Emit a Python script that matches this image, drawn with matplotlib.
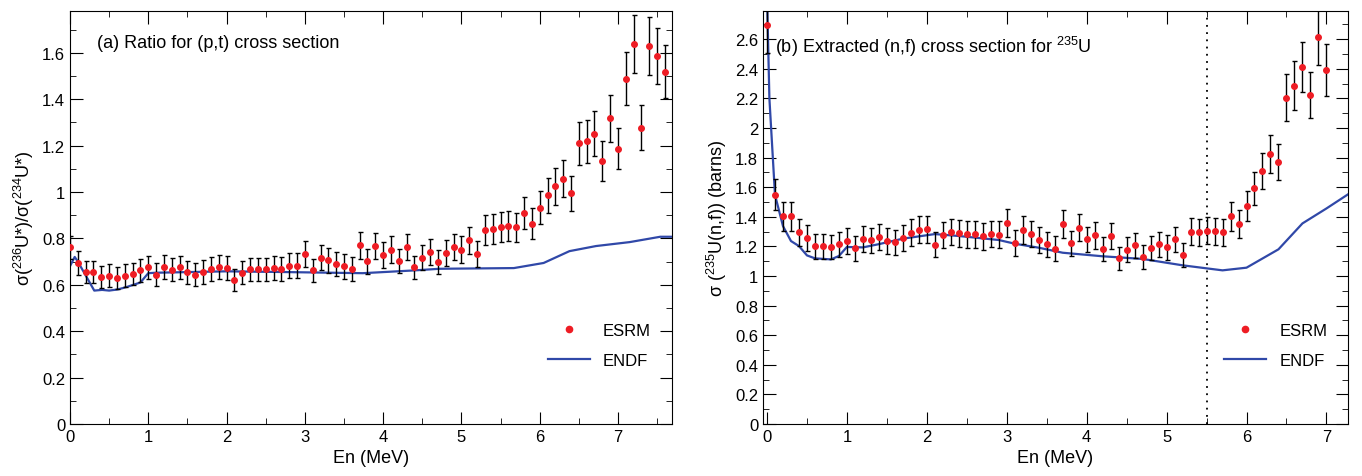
import numpy as np
import matplotlib.pyplot as plt
from matplotlib.lines import Line2D
from matplotlib.ticker import MultipleLocator, FormatStrFormatter

plt.rcParams['font.family'] = ['Liberation Sans', 'DejaVu Sans']
plt.rcParams['mathtext.fontset'] = 'custom'
plt.rcParams['mathtext.rm'] = 'Liberation Sans'

# panel (a): ratio for (p,t), points every 0.1 MeV from 0
ratio_y = [0.761, 0.694, 0.655, 0.655, 0.633, 0.640, 0.630, 0.640, 0.647, 0.662,
           0.675, 0.643, 0.676, 0.665, 0.675, 0.653, 0.644, 0.655, 0.669, 0.676,
           0.673, 0.619, 0.652, 0.666, 0.666, 0.666, 0.672, 0.669, 0.683, 0.683,
           0.734, 0.662, 0.717, 0.705, 0.688, 0.679, 0.669, 0.770, 0.701, 0.767,
           0.729, 0.752, 0.702, 0.763, 0.675, 0.717, 0.741, 0.698, 0.738, 0.763,
           0.752, 0.791, 0.731, 0.837, 0.839, 0.849, 0.853, 0.847, 0.908, 0.863,
           0.932, 0.986, 1.024, 1.058, 0.994, 1.209, 1.219, 1.252, 1.134, 1.317,
           1.187, 1.489, 1.637, 1.276, 1.630, 1.587, 1.518]
ratio_err = [0.050, 0.050, 0.049, 0.049, 0.048, 0.048, 0.048, 0.048, 0.049, 0.050,
             0.051, 0.049, 0.051, 0.050, 0.051, 0.050, 0.049, 0.050, 0.051, 0.051,
             0.051, 0.047, 0.050, 0.051, 0.051, 0.051, 0.051, 0.051, 0.052, 0.052,
             0.056, 0.050, 0.054, 0.054, 0.052, 0.052, 0.051, 0.058, 0.053, 0.058,
             0.055, 0.057, 0.053, 0.058, 0.051, 0.054, 0.056, 0.053, 0.056, 0.058,
             0.057, 0.060, 0.056, 0.064, 0.064, 0.065, 0.065, 0.064, 0.069, 0.066,
             0.071, 0.075, 0.078, 0.080, 0.076, 0.092, 0.093, 0.095, 0.086, 0.100,
             0.090, 0.113, 0.124, 0.097, 0.124, 0.121, 0.115]
endf_a_x = [0, 0.06, 0.10, 0.31, 0.41, 0.5, 0.61, 0.72, 0.9, 1.0, 1.1, 2.0, 2.72,
            3.74, 4.4, 4.72, 5.67, 6.05, 6.38, 6.72, 7.15, 7.54, 7.69]
endf_a_y = [0.68, 0.72, 0.70, 0.575, 0.578, 0.575, 0.58, 0.59, 0.61, 0.65, 0.652,
            0.658, 0.655, 0.65, 0.662, 0.669, 0.672, 0.694, 0.745, 0.767, 0.784,
            0.807, 0.807]

# panel (b): extracted (n,f) for 235U, points every 0.1 MeV from 0
nf_y = [2.697, 1.548, 1.402, 1.402, 1.294, 1.254, 1.200, 1.202, 1.196, 1.213,
        1.238, 1.187, 1.252, 1.240, 1.265, 1.236, 1.227, 1.256, 1.292, 1.312,
        1.315, 1.211, 1.276, 1.297, 1.288, 1.281, 1.281, 1.267, 1.283, 1.279,
        1.360, 1.222, 1.310, 1.283, 1.243, 1.213, 1.184, 1.353, 1.220, 1.326,
        1.247, 1.274, 1.182, 1.272, 1.119, 1.178, 1.207, 1.128, 1.189, 1.213,
        1.193, 1.247, 1.142, 1.299, 1.294, 1.306, 1.303, 1.294, 1.402, 1.353,
        1.472, 1.593, 1.710, 1.825, 1.769, 2.204, 2.285, 2.411, 2.225, 2.613,
        2.389]
nf_err = [0.19, 0.105, 0.10, 0.10, 0.09, 0.088, 0.084, 0.084, 0.084, 0.085,
          0.087, 0.083, 0.088, 0.087, 0.089, 0.087, 0.086, 0.088, 0.090, 0.092,
          0.092, 0.085, 0.089, 0.091, 0.090, 0.090, 0.090, 0.089, 0.090, 0.090,
          0.095, 0.086, 0.092, 0.090, 0.087, 0.085, 0.083, 0.095, 0.085, 0.093,
          0.087, 0.089, 0.083, 0.089, 0.078, 0.082, 0.084, 0.079, 0.083, 0.085,
          0.084, 0.087, 0.080, 0.091, 0.091, 0.091, 0.091, 0.091, 0.098, 0.095,
          0.103, 0.112, 0.120, 0.128, 0.124, 0.160, 0.166, 0.170, 0.156, 0.190,
          0.175]
endf_b_x = [0, 0.03, 0.10, 0.20, 0.30, 0.40, 0.50, 0.60, 0.80, 0.90, 1.0, 1.2, 1.4,
            1.7, 2.1, 2.4, 2.9, 3.1, 3.4, 3.7, 4.2, 4.7, 5.2, 5.7, 6.0, 6.4, 6.7,
            7.0, 7.3]
endf_b_y = [2.90, 2.20, 1.548, 1.337, 1.236, 1.202, 1.139, 1.119, 1.112, 1.135,
            1.196, 1.193, 1.215, 1.252, 1.283, 1.27, 1.243, 1.218, 1.191, 1.157,
            1.133, 1.115, 1.072, 1.038, 1.056, 1.18, 1.355, 1.456, 1.562]
threshold = 5.51

RED = '#ee1c24'
BLUE = '#3048a8'

fig = plt.figure(figsize=(13.62, 4.77), dpi=100)
ax1 = fig.add_axes([70/1362, 52/477, 602/1362, 413/477])
ax2 = fig.add_axes([763/1362, 52/477, 585/1362, 413/477])


def style(ax):
    ax.tick_params(which='both', direction='in', top=True, right=True, labelsize=12)
    ax.tick_params(which='major', length=9)
    ax.tick_params(which='minor', length=4.5)
    ax.xaxis.set_major_locator(MultipleLocator(1))
    ax.xaxis.set_minor_locator(MultipleLocator(0.5))
    ax.yaxis.set_major_locator(MultipleLocator(0.2))
    ax.yaxis.set_minor_locator(MultipleLocator(0.1))
    ax.yaxis.set_major_formatter(FormatStrFormatter('%g'))
    ax.set_xlabel('En (MeV)', fontsize=13)
    handles = [Line2D([], [], ls='none', marker='o', color=RED, ms=4.5),
               Line2D([], [], color=BLUE, lw=1.6)]
    ax.legend(handles, ['ESRM', 'ENDF'], loc='lower right', frameon=False,
              fontsize=12, bbox_to_anchor=(0.99, 0.1), handlelength=2.5,
              labelspacing=0.9)


xa = np.arange(len(ratio_y)) * 0.1
ax1.errorbar(xa, ratio_y, yerr=ratio_err, fmt='o', color=RED, ms=4,
             ecolor='k', elinewidth=1.0, capsize=1.8, capthick=1.0, zorder=3)
ax1.plot(endf_a_x, endf_a_y, color=BLUE, lw=1.6)
ax1.set_xlim(0, 7.69)
ax1.set_ylim(0, 1.78)
style(ax1)
ax1.set_ylabel(r'σ($^{236}$U*)/σ($^{234}$U*)', fontsize=13)
ax1.text(0.045, 0.945, '(a) Ratio for (p,t) cross section', transform=ax1.transAxes,
         fontsize=13, va='top')

xb = np.arange(len(nf_y)) * 0.1
ax2.errorbar(xb, nf_y, yerr=nf_err, fmt='o', color=RED, ms=4,
             ecolor='k', elinewidth=1.0, capsize=1.8, capthick=1.0, zorder=3)
ax2.plot(endf_b_x, endf_b_y, color=BLUE, lw=1.6)
ax2.axvline(threshold, color='k', ls=(0, (1, 3)), lw=1.3)
ax2.set_xlim(-0.05, 7.27)
ax2.set_ylim(0, 2.79)
style(ax2)
ax2.set_ylabel(r'σ ($^{235}$U(n,f)) (barns)', fontsize=13)
ax2.text(0.02, 0.945, r'(b) Extracted (n,f) cross section for $^{235}$U',
         transform=ax2.transAxes, fontsize=13, va='top')

fig.savefig('out.png', dpi=100)
